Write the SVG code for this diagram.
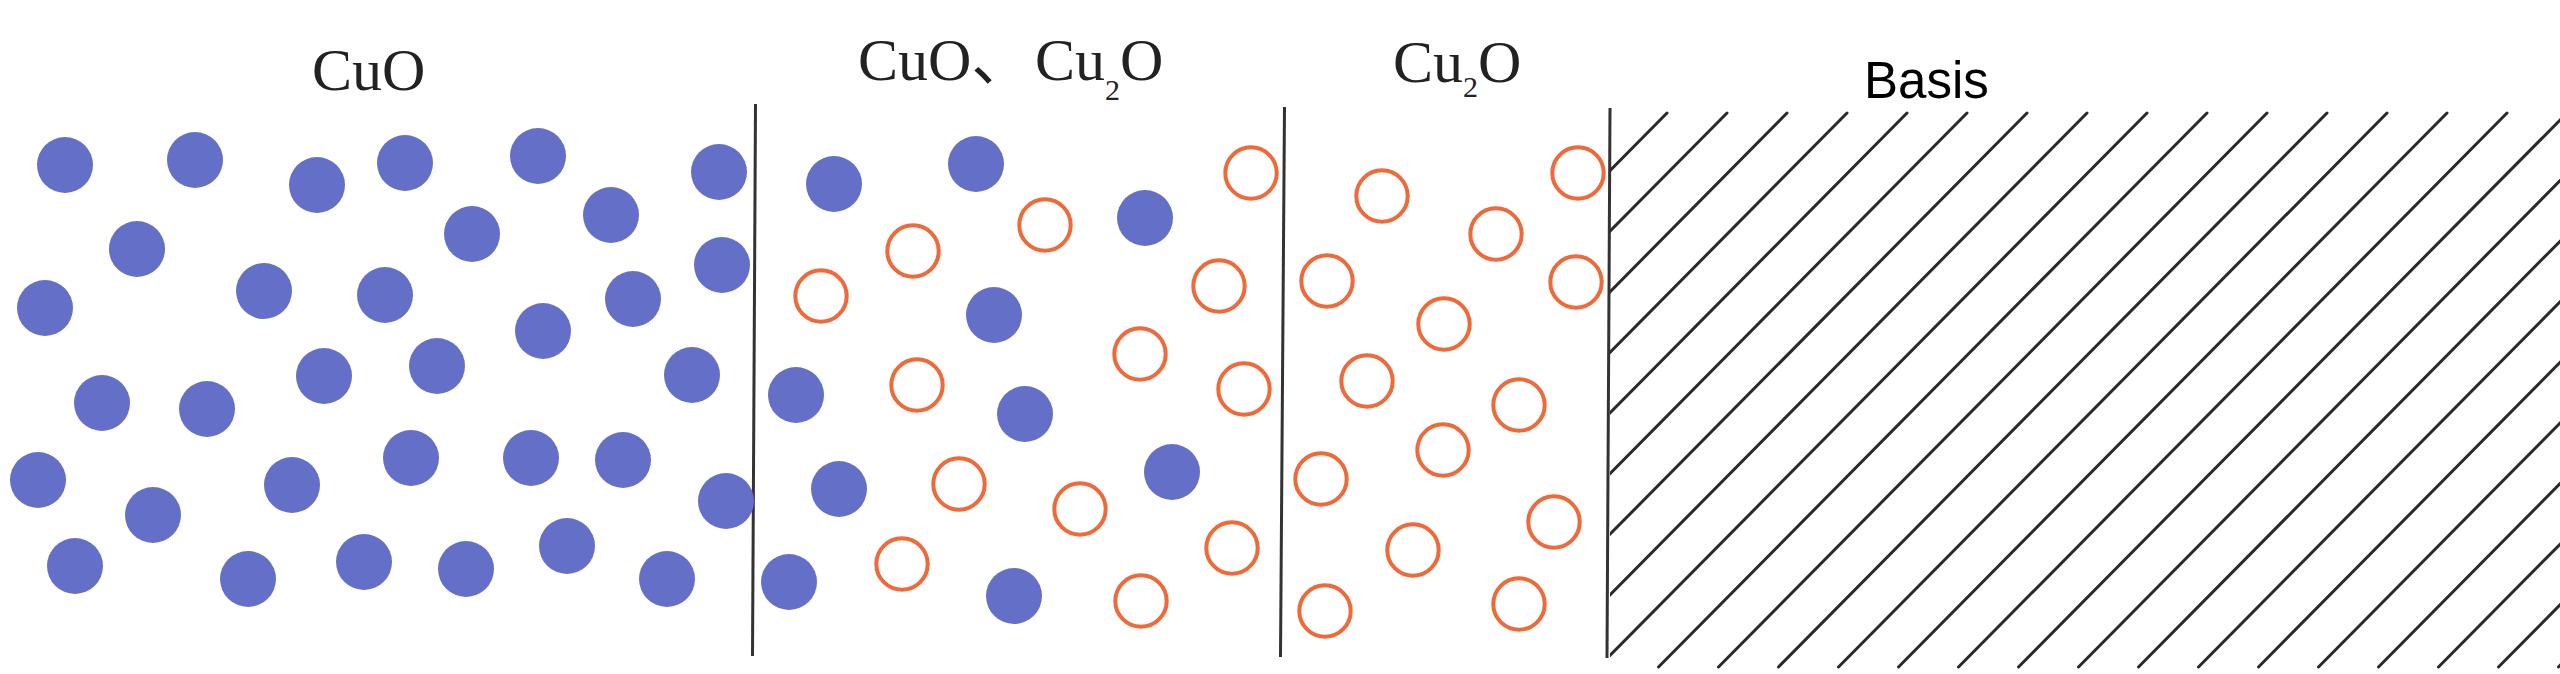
<svg xmlns="http://www.w3.org/2000/svg" width="2560" height="674" viewBox="0 0 2560 674">
  <style>
    .lbl { font-family: "Liberation Serif", "Times New Roman", serif; font-size: 60px; fill: #222; }
    .sub { font-size: 30px; }
    .cjk { font-family: "Noto Sans CJK SC", "Liberation Serif", serif; }
    .basis { font-family: "Liberation Sans", Arial, sans-serif; font-size: 51px; fill: #000; }
    .cuo { fill: #6470C8; }
    .cu2o { fill: none; stroke: #EE6A3A; stroke-width: 4; }
    .wall { stroke: #333; stroke-width: 3; fill: none; }
    .hatch { stroke: #2a2a2a; stroke-width: 3; fill: none; stroke-linecap: round; }
  </style>
  <defs>
    <symbol id="p" overflow="visible"><circle class="cuo" cx="0" cy="0" r="28"/></symbol>
    <symbol id="q" overflow="visible"><circle class="cu2o" cx="0" cy="0" r="25.7"/></symbol>
    <clipPath id="basisClip"><rect x="1610" y="95" width="950" height="590"/></clipPath>
  </defs>
  <rect width="2560" height="674" fill="#fff"/>

  <g id="labels">
    <text class="lbl" x="312" y="90">CuO</text>
    <text class="lbl" y="80"><tspan x="858">CuO</tspan><tspan class="cjk">、</tspan><tspan x="1035">Cu</tspan><tspan class="sub" dy="20">2</tspan><tspan dy="-20">O</tspan></text>
    <text class="lbl" y="82"><tspan x="1393">Cu</tspan><tspan class="sub" dy="15">2</tspan><tspan dy="-15">O</tspan></text>
    <text class="basis" x="1864" y="98">Basis</text>
  </g>

  <g id="walls">
    <line class="wall" x1="755.5" y1="104" x2="752.5" y2="656"/>
    <line class="wall" x1="1284.5" y1="107" x2="1280.5" y2="657"/>
    <line class="wall" x1="1610" y1="108" x2="1607" y2="658"/>
  </g>

  <g id="layer-cuo">
    <use href="#p" x="65" y="165"/><use href="#p" x="195" y="160"/><use href="#p" x="317" y="185"/>
    <use href="#p" x="405" y="163"/><use href="#p" x="538" y="156"/><use href="#p" x="719" y="172"/>
    <use href="#p" x="137" y="249"/><use href="#p" x="472" y="234"/><use href="#p" x="611" y="215"/>
    <use href="#p" x="722" y="265"/><use href="#p" x="45" y="308"/><use href="#p" x="264" y="291"/>
    <use href="#p" x="385" y="295"/><use href="#p" x="633" y="299"/><use href="#p" x="543" y="331"/>
    <use href="#p" x="692" y="375"/><use href="#p" x="102" y="403"/><use href="#p" x="207" y="409"/>
    <use href="#p" x="324" y="376"/><use href="#p" x="437" y="366"/><use href="#p" x="38" y="480"/>
    <use href="#p" x="153" y="515"/><use href="#p" x="292" y="485"/><use href="#p" x="411" y="458"/>
    <use href="#p" x="531" y="458"/><use href="#p" x="623" y="460"/><use href="#p" x="726" y="501"/>
    <use href="#p" x="75" y="566"/><use href="#p" x="248" y="579"/><use href="#p" x="364" y="562"/>
    <use href="#p" x="466" y="569"/><use href="#p" x="567" y="546"/><use href="#p" x="667" y="579"/>
  </g>

  <g id="layer-mixed">
    <use href="#p" x="834" y="184"/><use href="#p" x="976" y="164"/><use href="#p" x="1145" y="218"/>
    <use href="#p" x="994" y="315"/><use href="#p" x="796" y="395"/><use href="#p" x="1025" y="414"/>
    <use href="#p" x="839" y="489"/><use href="#p" x="1172" y="472"/><use href="#p" x="789" y="582"/>
    <use href="#p" x="1014" y="596"/>
    <use href="#q" x="1251" y="173"/><use href="#q" x="1045" y="225"/><use href="#q" x="913" y="251"/>
    <use href="#q" x="821" y="296"/><use href="#q" x="1219" y="286"/><use href="#q" x="1140" y="354"/>
    <use href="#q" x="917" y="385"/><use href="#q" x="1244" y="389"/><use href="#q" x="959" y="484"/>
    <use href="#q" x="1080" y="509"/><use href="#q" x="1232" y="548"/><use href="#q" x="902" y="564"/>
    <use href="#q" x="1141" y="601"/>
  </g>

  <g id="layer-cu2o">
    <use href="#q" x="1382" y="196"/><use href="#q" x="1578" y="173"/><use href="#q" x="1496" y="234"/>
    <use href="#q" x="1327" y="281"/><use href="#q" x="1576" y="282"/><use href="#q" x="1444" y="324"/>
    <use href="#q" x="1367" y="381"/><use href="#q" x="1519" y="405"/><use href="#q" x="1443" y="450"/>
    <use href="#q" x="1321" y="479"/><use href="#q" x="1554" y="522"/><use href="#q" x="1413" y="550"/>
    <use href="#q" x="1325" y="611"/><use href="#q" x="1519" y="604"/>
  </g>

  <g id="basis">
    <path class="hatch" clip-path="url(#basisClip)" d="
      M1667 113 L1118.5 667 M1727 113 L1178.5 667 M1787 113 L1238.5 667 M1847 113 L1298.5 667
      M1907 113 L1358.5 667 M1967 113 L1418.5 667 M2027 113 L1478.5 667 M2087 113 L1538.5 667
      M2147 113 L1598.5 667 M2207 113 L1658.5 667 M2267 113 L1718.5 667 M2327 113 L1778.5 667
      M2387 113 L1838.5 667 M2447 113 L1898.5 667 M2507 113 L1958.5 667 M2567 113 L2018.5 667
      M2627 113 L2078.5 667 M2687 113 L2138.5 667 M2747 113 L2198.5 667 M2807 113 L2258.5 667
      M2867 113 L2318.5 667 M2927 113 L2378.5 667 M2987 113 L2438.5 667 M3047 113 L2498.5 667
      M3107 113 L2558.5 667"/>
  </g>
</svg>
